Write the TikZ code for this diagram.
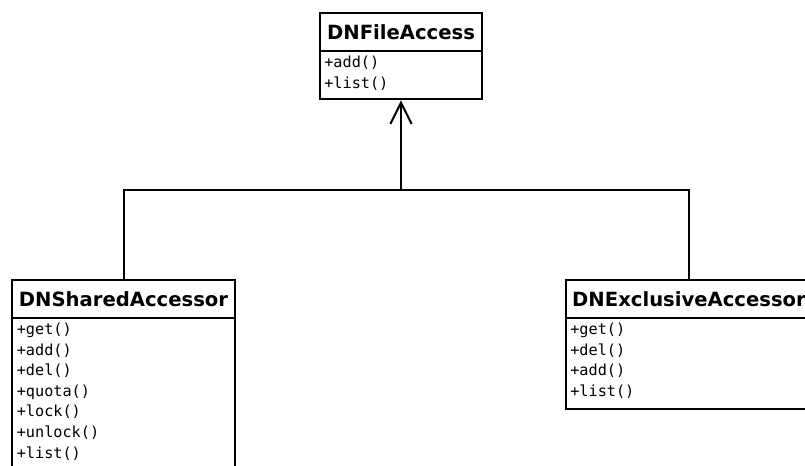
\documentclass[tikz,border=0pt]{standalone}
\usepackage{fontspec}
\setmainfont{DejaVu Sans}
\newfontfamily\classfont{DejaVu Sans}
\newfontfamily\opfont{DejaVu Sans Mono}
\usetikzlibrary{arrows.meta,positioning}
% operation compartment: fixed height, lines set from the top
\newcommand\opsbox[3]{\parbox[c][#1][t]{#2}{\rule{0pt}{12.6pt}#3}}
\tikzset{
  uml/.style={line width=1.5pt, draw=black, outer sep=0pt},
  classname/.style={uml, fill=white, anchor=north west, inner sep=0pt,
    minimum height=28.5pt, font=\classfont\bfseries\fontsize{14.7}{17}\selectfont},
  classops/.style={uml, fill=white, anchor=north west, inner xsep=2.2pt, inner ysep=0pt,
    align=left, font=\opfont\fontsize{11.4}{15.4}\selectfont},
  inherit/.style={line width=1.5pt, draw=black},
  generalize/.style={inherit, -{Straight Barb[length=16pt,width=16pt,line width=1.5pt]}},
}
\begin{document}
\begin{tikzpicture}[x=0.75pt,y=-0.75pt]
\useasboundingbox (0,0) rectangle (805,466);
\clip (0,0) rectangle (805,466);
\fill[white] (0,0) rectangle (805,466);

% base class
\node[classname, minimum width=121.5pt] (fa) at (320,13) {DNFileAccess};
\node[classops, minimum width=121.5pt] (faops) at (fa.south west)
  {\opsbox{36pt}{115pt}{+add()\\+list()}};

% shared accessor
\node[classname, minimum width=167.25pt] (shared) at (12,280) {DNSharedAccessor};
\node[classops, minimum width=167.25pt] (sharedops) at (shared.south west)
  {\opsbox{160pt}{160pt}{+get()\\+add()\\+del()\\+quota()\\+lock()\\+unlock()\\+list()}};

% exclusive accessor
\node[classname, minimum width=184.5pt] (excl) at (566,280) {DNExclusiveAccessor};
\node[classops, minimum width=184.5pt] (exclops) at (excl.south west)
  {\opsbox{68pt}{178pt}{+get()\\+del()\\+add()\\+list()}};

% generalization connectors
\coordinate (join) at (fa.south |- 0,190);
\draw[inherit] (shared.north) |- (join);
\draw[inherit] (excl.north) |- (join);
\draw[generalize] (join) -- ([yshift=-1pt]faops.south);
\end{tikzpicture}
\end{document}
